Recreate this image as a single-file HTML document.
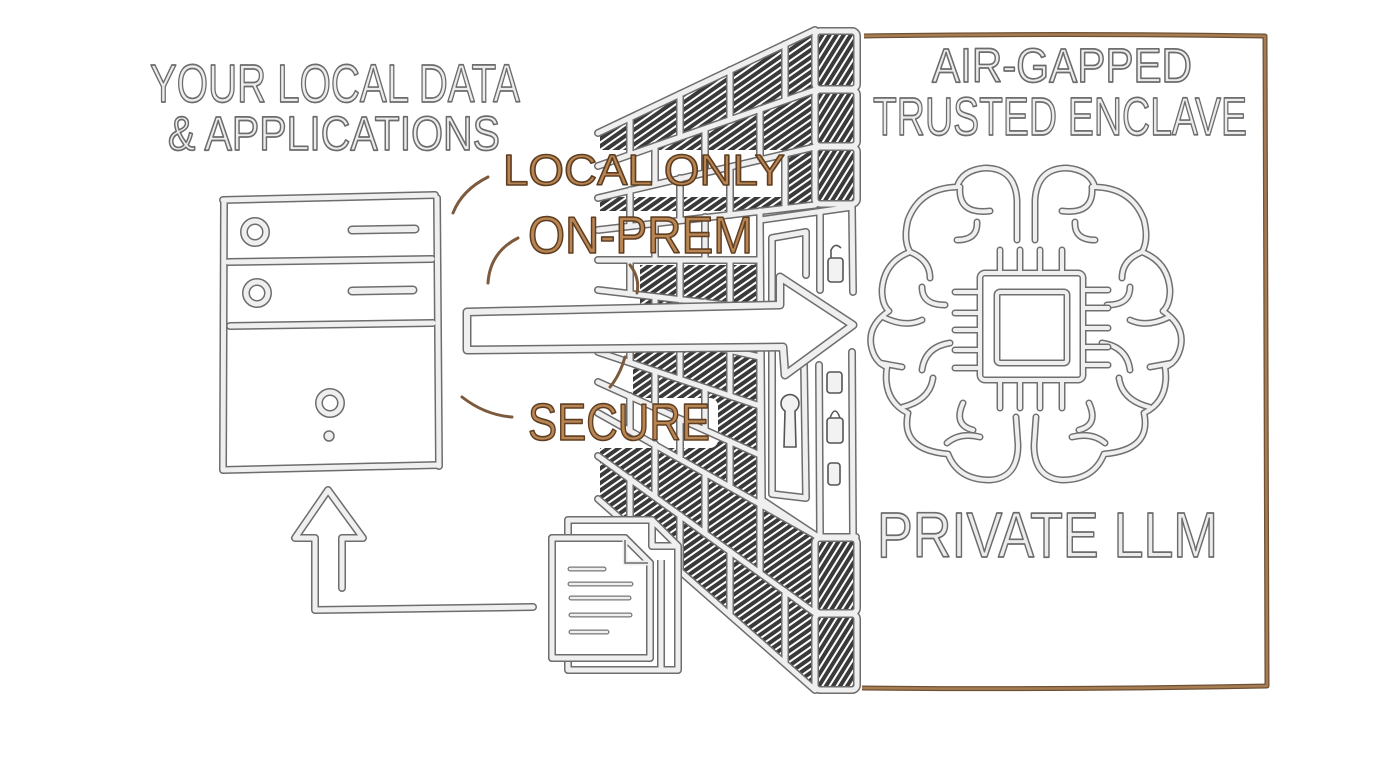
<!DOCTYPE html>
<html><head><meta charset="utf-8">
<style>
html,body{margin:0;padding:0;background:#fff;}
svg{display:block;}
.t{font-family:"Liberation Sans",sans-serif;fill:#ececec;stroke:#6c6c6c;stroke-width:1.7;stroke-linejoin:round;}
.o{font-family:"Liberation Sans",sans-serif;fill:#b98552;stroke:#5e3e22;stroke-width:1.6;stroke-linejoin:round;}
</style></head>
<body>
<svg width="1376" height="768" viewBox="0 0 1376 768" xmlns="http://www.w3.org/2000/svg">
<defs>
  <pattern id="hw" patternUnits="userSpaceOnUse" width="6" height="6" patternTransform="rotate(-35)">
    <rect width="6" height="6" fill="#fff"/><rect width="6" height="4" fill="#3a3a3a"/>
  </pattern>
  <pattern id="hc" patternUnits="userSpaceOnUse" width="6" height="6" patternTransform="rotate(-58)">
    <rect width="6" height="6" fill="#fff"/><rect width="6" height="4" fill="#3a3a3a"/>
  </pattern>

  <!-- wall mortar lines -->
  <g id="wl">
    <path d="M598 133 L815 30 M598 166 L815 90 M598 198 L815 147 M598 230 L815 205
             M598 260 L760 260 M598 290 L760 309 M598 321 L760 357 M598 352 L760 406 M598 382 L760 455
             M598 413 L815 535 M598 456 L815 613 M598 499 L815 690 M760 211 L760 504"/>
    <path d="M630 118 L630 155 M680 94 L680 137 M730 70 L730 120 M785 44 L785 100
             M655 146 L655 184 M705 129 L705 173 M760 109 L760 160
             M630 190 L630 226 M680 178 L680 220 M730 167 L730 215 M785 154 L785 208
             M655 223 L655 260 M705 217 L705 260
             M630 260 L630 294 M680 260 L680 300 M730 260 L730 305
             M655 297 L655 334 M705 302 L705 345
             M630 328 L630 362 M680 339 L680 379 M730 351 L730 396
             M655 371 L655 407 M705 388 L705 430
             M630 396 L630 430 M680 419 L680 458 M730 441 L730 487
             M655 444 L655 497 M705 473 L705 533 M760 504 L760 573
             M630 478 L630 526 M680 515 L680 570 M730 551 L730 615 M785 591 L785 663"/>
    <!-- end column squares -->
    <rect x="815" y="31" width="42" height="58" rx="5"/>
    <rect x="815" y="90" width="42" height="56" rx="5"/>
    <rect x="815" y="147" width="42" height="57" rx="5"/>
    <rect x="815" y="538" width="42" height="75" rx="5"/>
    <rect x="815" y="614" width="42" height="76" rx="5"/>
    <!-- door -->
    <path d="M760 220 L852 207 M760 222 L762 500 M762 500 L818 537 L856 537
             M772 238 L806 232 L806 275 M772 238 L772 494 M804 365 L806 498 L772 494
             M820 212 L820 290 M819 365 L820 535 M852 207 L853 292 M852 352 L853 535"/>
  </g>

  <!-- server -->
  <g id="srv">
    <path d="M223 200 L435 195 M224 200 L223 470 M437 198 L439 466 M223 470 L438 465 M228 262 L432 259 M230 326 L433 323"/>
    <circle cx="255" cy="232" r="11"/>
    <circle cx="257" cy="293" r="11"/>
    <circle cx="330" cy="403" r="11"/>
  </g>

  <!-- brain half -->
  <g id="bl">
    <path d="M1017 240 L1017 200 Q1015 168 985 168 Q962 170 957 187 Q920 188 908 220 Q903 240 910 252 Q884 262 882 290 Q882 305 889 311 Q868 325 871 345 Q874 362 887 367 Q882 400 908 413 Q900 450 948 454 Q958 480 990 480 Q1018 478 1018 445 L1016 417"/>
    <path d="M960 187 Q958 215 990 211 M977 222 Q978 240 957 240 M910 252 Q930 260 930 278 M922 287 Q922 305 945 305 M883 317 Q905 328 922 320 M950 343 Q925 347 922 370 M880 363 L902 367 M933 378 Q930 400 903 407 M963 403 Q953 425 973 430 M947 443 Q960 432 980 437"/>
  </g>
  <g id="brain">
    <use href="#bl"/>
    <use href="#bl" transform="translate(2052 0) scale(-1 1)"/>
  </g>
  <g id="chip">
    <rect x="980" y="273" width="103" height="107" rx="5"/>
    <rect x="997" y="292" width="70" height="71" rx="3"/>
    <path d="M1000 250 L1000 273 M1020 250 L1020 273 M1040 250 L1040 273 M1062 250 L1062 273
             M1000 380 L1000 408 M1020 380 L1020 408 M1040 380 L1040 408 M1062 380 L1062 408
             M955 292 L980 292 M955 313 L980 313 M955 330 L980 330 M955 350 L980 350 M955 368 L980 368
             M1083 290 L1108 290 M1083 308 L1108 308 M1083 328 L1108 328 M1083 347 L1108 347 M1083 365 L1108 365"/>
  </g>

  <g id="upar">
    <path d="M342 588 L342 538 L363 538 L328 490 L295 538 L315 538 L315 610 L533 607"/>
  </g>
  <g id="docs">
    <path d="M568 520 L652 520 L678 546 L678 670 L568 670 Z M652 520 L652 546 L678 546 M661 560 L661 670"/>
    <path d="M552 538 L625 538 L650 563 L650 658 L552 658 Z M625 538 L625 563 L650 563"/>
  </g>
  <g id="arw">
    <path d="M467 312 L780 305 L780 277 L853 325 L785 375 L783 347 L467 350 Z"/>
  </g>
</defs>

<rect width="1376" height="768" fill="#fff"/>

<!-- ===== WALL ===== -->
<polygon points="600,132 815,30 815,690 600,499" fill="url(#hw)"/>
<g fill="url(#hc)">
  <rect x="815" y="31" width="42" height="58"/>
  <rect x="815" y="90" width="42" height="56"/>
  <rect x="815" y="147" width="42" height="57"/>
  <rect x="815" y="538" width="42" height="75"/>
  <rect x="815" y="614" width="42" height="76"/>
</g>
<!-- door area white -->
<polygon points="760,211 858,204 858,537 815,537 760,504" fill="#fff"/>
<!-- white backdrops -->
<g fill="#fff">
  <rect x="500" y="150" width="288" height="47" rx="8"/>
  <rect x="520" y="211" width="240" height="54" rx="8"/>
  <rect x="520" y="398" width="198" height="50" rx="8"/>
  <rect x="594" y="258" width="46" height="50"/>
  <rect x="594" y="350" width="39" height="50"/>
</g>
<use href="#wl" fill="none" stroke="#6d6d6d" stroke-width="8" stroke-linecap="round" stroke-linejoin="round"/>
<use href="#wl" fill="none" stroke="#efefef" stroke-width="5" stroke-linecap="round" stroke-linejoin="round"/>

<!-- locks & keyhole -->
<g fill="#f2f2f2" stroke="#555" stroke-width="1.6">
  <path d="M831 258 L831 250 Q835 242 841 248" fill="none"/>
  <rect x="828" y="258" width="15" height="24" rx="3"/>
  <rect x="827" y="372" width="15" height="21" rx="3"/>
  <path d="M830 418 Q835 404 840 418" fill="none"/>
  <rect x="827" y="418" width="16" height="25" rx="3"/>
  <rect x="828" y="463" width="12" height="22" rx="3"/>
  <path d="M785 411 A9 9 0 1 1 795 411 L796 447 L784 447 Z"/>
</g>

<!-- ===== ARROW ===== -->
<polygon points="467,312 780,305 780,277 853,325 785,375 783,347 467,350" fill="#fff"/>
<use href="#arw" fill="none" stroke="#6d6d6d" stroke-width="9" stroke-linejoin="round"/>
<use href="#arw" fill="none" stroke="#efefef" stroke-width="6" stroke-linejoin="round"/>

<!-- ===== SERVER ===== -->
<use href="#srv" fill="none" stroke="#6d6d6d" stroke-width="8" stroke-linecap="round"/>
<use href="#srv" fill="none" stroke="#efefef" stroke-width="5" stroke-linecap="round"/>
<path d="M352 230 L415 229 M352 291 L413 290" stroke="#6d6d6d" stroke-width="9" stroke-linecap="round"/>
<path d="M352 230 L415 229 M352 291 L413 290" stroke="#efefef" stroke-width="6" stroke-linecap="round"/>
<circle cx="329" cy="436" r="5" fill="#eee" stroke="#6d6d6d" stroke-width="1.5"/>

<!-- up arrow -->
<use href="#upar" fill="none" stroke="#6d6d6d" stroke-width="8" stroke-linecap="round" stroke-linejoin="round"/>
<use href="#upar" fill="none" stroke="#efefef" stroke-width="5" stroke-linecap="round" stroke-linejoin="round"/>

<!-- documents -->
<polygon points="568,520 652,520 678,546 678,670 568,670" fill="#fff"/>
<use href="#docs" fill="#fff" stroke="#6d6d6d" stroke-width="8" stroke-linejoin="round"/>
<polygon points="552,538 625,538 650,563 650,658 552,658" fill="#fff"/>
<use href="#docs" fill="none" stroke="#efefef" stroke-width="5" stroke-linejoin="round"/>
<path d="M552 538 L625 538 L650 563 L650 658 L552 658 Z" fill="#fff" stroke="#6d6d6d" stroke-width="8" stroke-linejoin="round"/>
<path d="M552 538 L625 538 L650 563 L650 658 L552 658 Z M625 538 L625 563 L650 563" fill="none" stroke="#efefef" stroke-width="5" stroke-linejoin="round"/>
<path d="M625 540 L625 563 L648 563" fill="none" stroke="#6d6d6d" stroke-width="1.5"/>
<path d="M570 569 L604 569 M570 584 L631 584 M571 598 L629 598 M571 615 L630 615 M571 632 L607 632" stroke="#777" stroke-width="5" stroke-linecap="round"/>
<path d="M570 569 L604 569 M570 584 L631 584 M571 598 L629 598 M571 615 L630 615 M571 632 L607 632" stroke="#efefef" stroke-width="2.5" stroke-linecap="round"/>

<!-- ===== ENCLAVE BOX ===== -->
<path d="M864 36 Q1060 33 1265 36 L1267 686 Q1060 690 862 688" fill="none" stroke="#6e5035" stroke-width="5" stroke-linejoin="round"/>
<path d="M864 36 Q1060 33 1265 36 L1267 686 Q1060 690 862 688" fill="none" stroke="#a67c53" stroke-width="2.5" stroke-linejoin="round"/>

<!-- brain & chip -->
<use href="#brain" fill="none" stroke="#707070" stroke-width="7" stroke-linecap="round" stroke-linejoin="round"/>
<use href="#brain" fill="none" stroke="#efefef" stroke-width="4" stroke-linecap="round" stroke-linejoin="round"/>
<use href="#chip" fill="none" stroke="#707070" stroke-width="7" stroke-linecap="round" stroke-linejoin="round"/>
<use href="#chip" fill="none" stroke="#efefef" stroke-width="4" stroke-linecap="round" stroke-linejoin="round"/>

<!-- brown tick curves -->
<g fill="none" stroke="#7d5a3c" stroke-width="3" stroke-linecap="round">
  <path d="M453 213 Q462 190 488 177"/>
  <path d="M488 283 Q490 252 518 238"/>
  <path d="M462 397 Q485 415 512 417"/>
  <path d="M630 265 Q640 278 637 293"/>
  <path d="M625 357 Q620 375 610 387"/>
</g>

<!-- ===== TEXT ===== -->
<text class="t" x="150" y="102" font-size="54" textLength="370" lengthAdjust="spacingAndGlyphs">YOUR LOCAL DATA</text>
<text class="t" x="168" y="150" font-size="48" textLength="332" lengthAdjust="spacingAndGlyphs">&amp; APPLICATIONS</text>
<text class="t" x="932" y="82" font-size="48" textLength="260" lengthAdjust="spacingAndGlyphs">AIR-GAPPED</text>
<text class="t" x="873" y="135" font-size="54" textLength="374" lengthAdjust="spacingAndGlyphs">TRUSTED ENCLAVE</text>
<text class="t" x="877" y="557" font-size="64" textLength="341" lengthAdjust="spacingAndGlyphs">PRIVATE LLM</text>

<text class="o" x="503" y="185" font-size="44" textLength="282" lengthAdjust="spacingAndGlyphs">LOCAL ONLY</text>
<text class="o" x="528" y="253" font-size="52" textLength="225" lengthAdjust="spacingAndGlyphs">ON-PREM</text>
<text class="o" x="528" y="440" font-size="52" textLength="182" lengthAdjust="spacingAndGlyphs">SECURE</text>
</svg>
</body></html>
